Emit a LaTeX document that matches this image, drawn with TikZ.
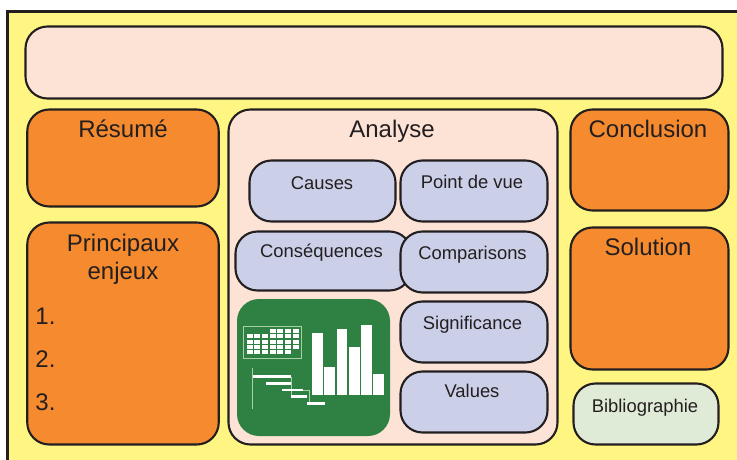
\documentclass[tikz,border=0pt]{standalone}
\usepackage{fontspec}
\setmainfont{Liberation Sans}
\definecolor{pagey}{HTML}{FFF582}
\definecolor{peach}{HTML}{FDE3D5}
\definecolor{orangebox}{HTML}{F58A2E}
\definecolor{lavender}{HTML}{CBCFE8}
\definecolor{iconG}{HTML}{2E8142}
\definecolor{iconL}{HTML}{A9D0A4}
\definecolor{bibg}{HTML}{DFEBD6}
\definecolor{inkline}{HTML}{231F20}
\tikzset{
  box/.style={draw=inkline, line width=2.1pt, rounded corners=22pt, inner sep=0pt},
  big/.style={text=inkline, anchor=mid, inner sep=0pt, font=\fontsize{24}{28}\selectfont},
  small/.style={text=inkline, anchor=mid, inner sep=0pt, font=\fontsize{18.4}{22}\selectfont},
  cell/.style={fill=white},
  thinicon/.style={iconL, line width=0.8pt}
}
\begin{document}
\begin{tikzpicture}[x=1pt,y=-1pt]
\useasboundingbox (0,0) rectangle (737,460);
\clip (0,0) rectangle (737,460);
\draw[inkline, line width=2.4pt, fill=pagey] (7.5,11.5) rectangle (760,480);
% top band
\node[box, fill=peach, minimum width=697pt, minimum height=72pt] (titleband) at (374,62.5) {};
% left column
\node[box, fill=orangebox, minimum width=191.5pt, minimum height=97pt] (resume) at (123,158) {};
\node[box, fill=orangebox, minimum width=191.5pt, minimum height=222pt] (enjeux) at (123,333.5) {};
\node[big] (resumeT) at (123,135) {Résumé};
\node[big] (enjeuxA) at (123,249) {Principaux};
\node[big] (enjeuxB) at (123,277) {enjeux};
\node[big] (un) at (45.5,322) {1.};
\node[big] (deux) at (45.5,365) {2.};
\node[big] (trois) at (45.5,408) {3.};
% middle
\node[box, fill=peach, minimum width=329pt, minimum height=335pt] (analyse) at (393,277) {};
\node[big] (analyseT) at (392,135) {Analyse};
\node[box, fill=lavender, minimum width=146pt, minimum height=61pt] (causes) at (322.5,191) {};
\node[box, fill=lavender, minimum width=176pt, minimum height=59pt] (conseq) at (323.5,261) {};
\node[box, fill=lavender, minimum width=147pt, minimum height=61pt] (pdv) at (474,191) {};
\node[box, fill=lavender, minimum width=147pt, minimum height=61pt] (compar) at (474,262) {};
\node[box, fill=lavender, minimum width=147pt, minimum height=61pt] (signif) at (474,332) {};
\node[box, fill=lavender, minimum width=147pt, minimum height=61pt] (values) at (474,402) {};
\node[small] (causesT) at (322,187) {Causes};
\node[small] (pdvT) at (472,186) {Point de vue};
\node[small] (conseqT) at (321.5,255) {Conséquences};
\node[small] (comparT) at (472.5,257) {Comparisons};
\node[small] (signifT) at (472.5,327) {Significance};
\node[small] (valuesT) at (472,395) {Values};
% right column
\node[box, fill=orangebox, minimum width=158pt, minimum height=101pt] (concl) at (649.5,160) {};
\node[box, fill=orangebox, minimum width=158pt, minimum height=142pt] (sol) at (649.5,298.5) {};
\node[box, fill=bibg, minimum width=145pt, minimum height=61pt] (biblio) at (646,414) {};
\node[big] (conclT) at (648,134.5) {Conclusion};
\node[big] (solT) at (648,253) {Solution};
\node[small] (biblioT) at (645,410) {Bibliographie};
% icon
\node[fill=iconG, rounded corners=22pt, inner sep=0pt, minimum width=153pt, minimum height=137pt] (icon) at (313.5,367.5) {};
\begin{scope}[shift={(230,290)},x=0.3333pt,y=-0.3333pt]
\draw[thinicon] (40,108) rectangle (215,204);
\foreach \c in {3,...,6} \fill[cell] (50+23*\c,117) rectangle +(18,12);
\foreach \r in {1,2,3} \foreach \c in {0,...,6} \fill[cell] (50+23*\c,117+16*\r) rectangle +(18,12);
\foreach \c in {0,...,5} \fill[cell] (50+23*\c,181) rectangle +(18,12);
\foreach \xa/\ytop in {247/130,283/232,320/118,357/172,393/106,430/253}
  \fill[cell] (\xa,\ytop) rectangle (\xa+32,314);
\draw[thinicon, line width=1.3pt] (68,235) -- (68,357);
\draw[thinicon] (183,260) -- (183,320);
\draw[thinicon] (218,300) -- (237,300) -- (237,341);
\foreach \xa/\xb/\ya in {70/183/260,108/183/280,155/218/300,182/232/320,232/286/341}
  \fill[cell] (\xa,\ya-4) rectangle (\xb,\ya+4);
\end{scope}
\end{tikzpicture}
\end{document}
